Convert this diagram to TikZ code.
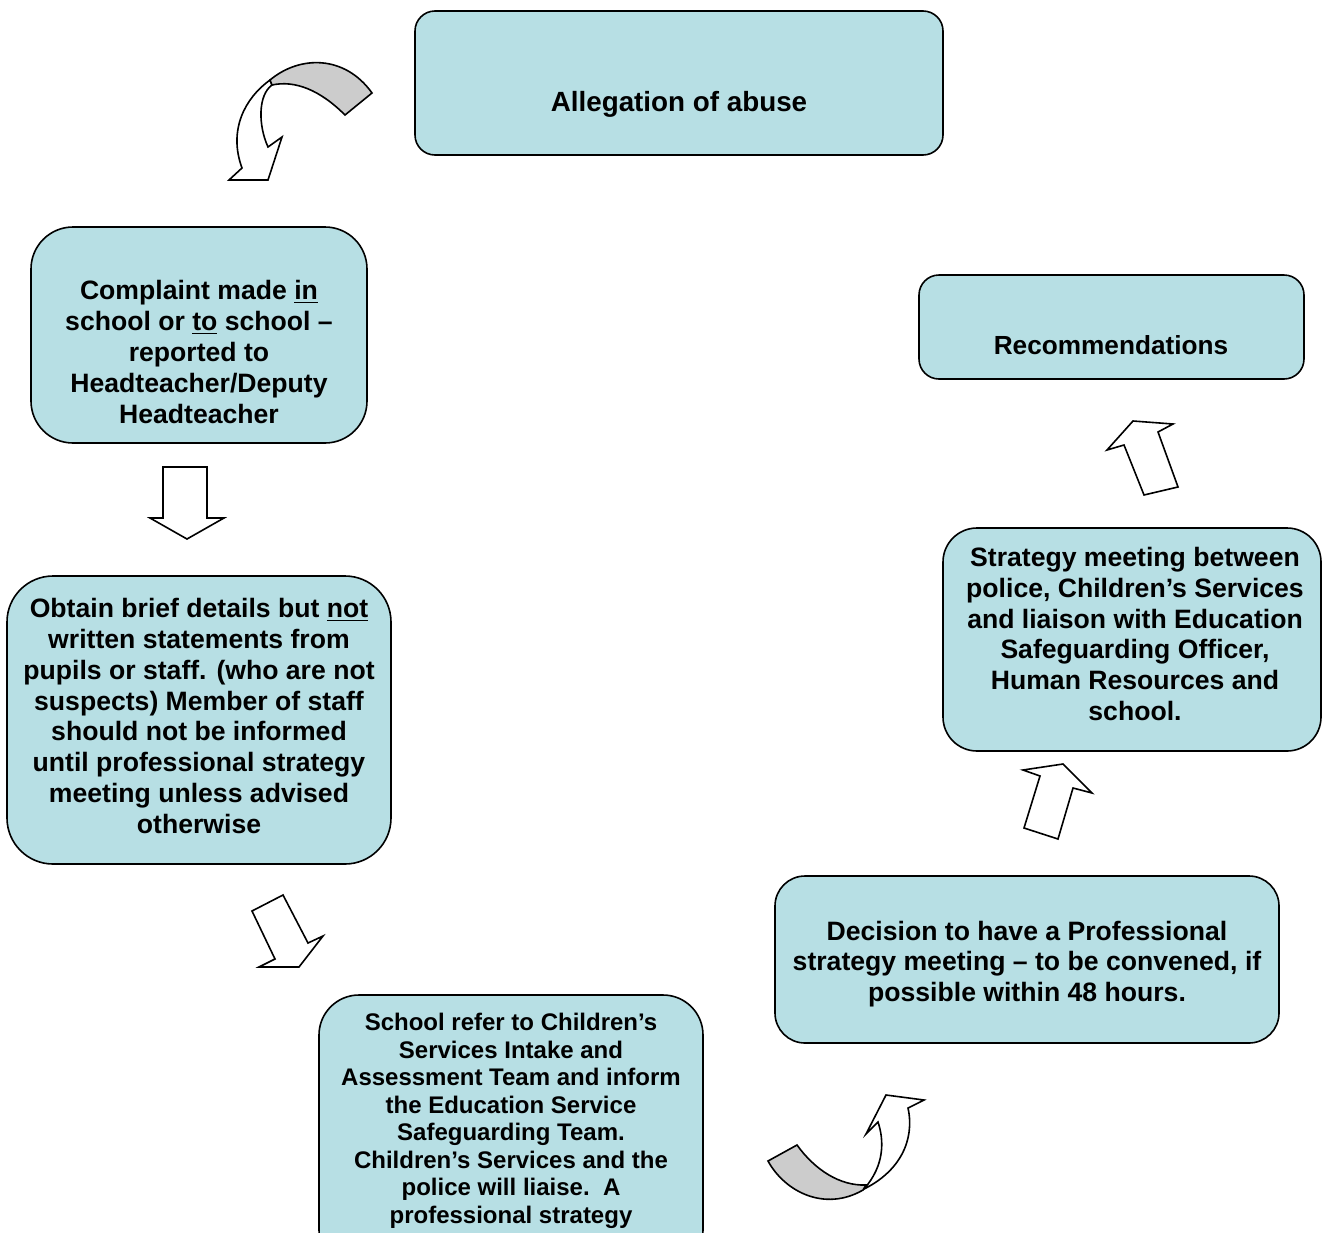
\documentclass[tikz,border=0pt]{standalone}
\usepackage{fontspec}
\setmainfont{Liberation Sans}
\usepackage{tikz}
\definecolor{boxblue}{RGB}{183,223,228}
\definecolor{ribbon}{RGB}{204,204,204}

\begin{document}
\begin{tikzpicture}[x=0.5pt,y=-0.5pt,
    panel/.style={draw=black,line width=0.8pt,fill=boxblue},
    caption/.style={align=center,font=\bfseries\fontsize{13.3}{15.4}\selectfont,inner sep=0pt},
    blockarrow/.style={draw=black,line width=0.8pt,fill=white,line join=miter},
    twistarrow/.style={draw=black,line width=0.8pt,fill=ribbon}]
        \useasboundingbox (0,0) rectangle (1322,1232);
        % boxes
        \draw[panel,rounded corners=10pt] (415,11) rectangle (943,155);
        \draw[panel,rounded corners=10pt] (919,275) rectangle (1304,379);
        \draw[panel,rounded corners=21pt] (31,227) rectangle (367,443);
        \draw[panel,rounded corners=23pt] (7,576) rectangle (391,864);
        \draw[panel,rounded corners=17pt] (943,528) rectangle (1321,751);
        \draw[panel,rounded corners=15pt] (775,876) rectangle (1279,1043);
        \draw[panel,rounded corners=20pt] (319,995) rectangle (703,1270);
        % texts
        \node[caption,font=\bfseries\fontsize{13.9}{16}\selectfont] (alleg) at (679,104) {Allegation of abuse};
        \node[caption,font=\bfseries\fontsize{13.1}{15}\selectfont] (recomm) at (1111,345) {Recommendations};
        \node[caption] (complaint) at (199,352) {Complaint made \underline{in}\\ school or \underline{to} school --\\ reported to\\ Headteacher/Deputy\\ Headteacher};
        \node[caption] (obtain) at (199,716) {Obtain brief details but \underline{not}\\ written statements from\\ pupils or staff. (who are not\\ suspects) Member of staff\\ should not be informed\\ until professional strategy\\ meeting unless advised\\ otherwise};
        \node[caption,font=\bfseries\fontsize{12}{13.75}\selectfont] (refer) at (511,1121) {School refer to Children’s\\ Services Intake and\\ Assessment Team and inform\\ the Education Service\\ Safeguarding Team.\\ Children’s Services and the\\ police will liaise.\ \ A\\ professional strategy};
        \node[caption] (decision) at (1027,964) {Decision to have a Professional\\ strategy meeting -- to be convened, if\\ possible within 48 hours.};
        \node[caption] (strategy) at (1135,634) {Strategy meeting between\\ police, Children’s Services\\ and liaison with Education\\ Safeguarding Officer,\\ Human Resources and\\ school.};
        % block arrows
        \draw[blockarrow] (163,467) -- (207,467) -- (207,518) -- (224,518) -- (187,539) -- (150,518) -- (163,518) -- cycle;
        \draw[blockarrow] (252,911) -- (283,895) -- (308,943) -- (323,936) -- (299,967) -- (259,967) -- (275,959) -- cycle;
        \draw[blockarrow] (1023,770) -- (1063,764) -- (1092,793) -- (1073,788) -- (1058,839) -- (1024,828) -- (1040,776) -- cycle;
        \draw[blockarrow] (1107,450) -- (1133,421) -- (1173,424) -- (1158,432) -- (1178,487) -- (1144,495) -- (1124,445) -- cycle;
        % curved arrows
        \draw[blockarrow] (270,80) .. controls (245,98) and (228,130) .. (242,168) -- (229,180) -- (268,180) -- (282,137) -- (268,147) .. controls (258,125) and (258,95) .. (272,85) -- cycle;
        \draw[twistarrow] (270,80) .. controls (300,55) and (345,55) .. (372,93) -- (345,115) .. controls (320,90) and (295,80) .. (272,85) -- cycle;
        \draw[blockarrow] (864,1189) .. controls (885,1165) and (884,1140) .. (878,1122) -- (866,1134) -- (886,1095) -- (924,1100) -- (908,1108) .. controls (915,1140) and (900,1172) .. (862,1190) -- cycle;
        \draw[twistarrow] (768,1161) -- (797,1145) .. controls (815,1170) and (840,1186) .. (866,1185) -- (863,1190) .. controls (825,1212) and (785,1192) .. (768,1161) -- cycle;
      \end{tikzpicture}
\end{document}
